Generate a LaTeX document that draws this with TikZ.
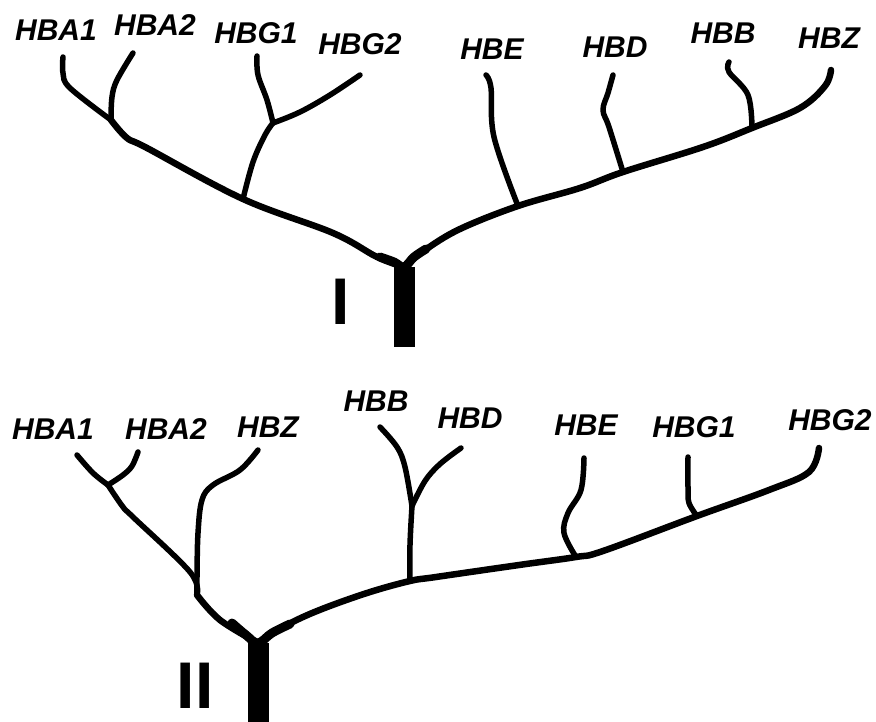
\documentclass[tikz,border=0pt]{standalone}
\usepackage{fontspec}
\setmainfont{Liberation Sans}
\begin{document}
\begin{tikzpicture}[x=1pt,y=-1pt,
  lbl/.style={font=\fontsize{30}{30}\selectfont\bfseries\itshape, inner sep=0pt},
  roman/.style={font=\fontsize{66}{66}\selectfont\bfseries, inner sep=0pt},
  br/.style={line width=5.5pt, line cap=round, line join=round},
  limb/.style={line width=6.5pt, line cap=round, line join=round},
  joint/.style={line width=9pt, line cap=round, line join=round},
  trunk/.style={line width=21pt}]
\useasboundingbox (0,0) rectangle (876,722);
% ---------- Tree I ----------
\node[lbl] (a1) at (56,30) {HBA1};
\node[lbl] (a2) at (155,25) {HBA2};
\node[lbl] (g1) at (256,33) {HBG1};
\node[lbl] (g2) at (360,44) {HBG2};
\node[lbl] (e) at (492,49) {HBE};
\node[lbl] (d) at (615,47) {HBD};
\node[lbl] (b) at (723,33) {HBB};
\node[lbl] (z) at (829,38) {HBZ};
\node[roman] (one) at (341,302) {I};
\coordinate (r1) at (404,267);
\coordinate (r1b) at (404,347);
\coordinate (jA) at (111,120);
\coordinate (jG) at (243,199);
\coordinate (jGs) at (273,123);
\coordinate (jE) at (518,206);
\coordinate (jD) at (623,172);
\coordinate (jB) at (752,128);
\coordinate (tA1) at (63,57);
\coordinate (tA2) at (133,53);
\coordinate (tG1) at (257,56);
\coordinate (tG2) at (360,75);
\coordinate (tE) at (486,75);
\coordinate (tD) at (613,75);
\coordinate (tB) at (729,62);
\coordinate (tZ) at (831,70);
\draw[trunk] (r1) -- (r1b);
\draw[joint] plot[smooth,tension=0.6] coordinates {(380,257) (394,262) (r1) (414,257) (426,249)};
\draw[limb] plot[smooth,tension=0.6] coordinates {(r1) (377,257) (333,233) (jG) (147,148) (127,138) (jA)};
\draw[br] plot[smooth,tension=0.6] coordinates {(jA) (70,88) (63,73) (tA1)};
\draw[br] plot[smooth,tension=0.6] coordinates {(jA) (112,97) (117,80) (tA2)};
\draw[br] plot[smooth,tension=0.6] coordinates {(jG) (253,162) (265,135) (jGs)};
\draw[br] plot[smooth,tension=0.6] coordinates {(jGs) (267,100) (258,75) (tG1)};
\draw[br] plot[smooth,tension=0.6] coordinates {(jGs) (300,112) (330,95) (tG2)};
\draw[limb] plot[smooth,tension=0.6] coordinates {(r1) (425,250) (460,229) (jE) (580,188) (jD) (703,147) (jB) (800,108) (825,86) (tZ)};
\draw[br] plot[smooth,tension=0.6] coordinates {(jE) (494,137) (491,88) (tE)};
\draw[br] plot[smooth,tension=0.6] coordinates {(jD) (609,127) (603,110) (608,93) (tD)};
\draw[br] plot[smooth,tension=0.6] coordinates {(jB) (748,95) (729,72) (tB)};
% ---------- Tree II ----------
\node[lbl] (a1b) at (53,429) {HBA1};
\node[lbl] (a2b) at (166,429) {HBA2};
\node[lbl] (zb) at (268,427) {HBZ};
\node[lbl] (bb) at (376,401) {HBB};
\node[lbl] (db) at (470,418) {HBD};
\node[lbl] (eb) at (586,425) {HBE};
\node[lbl] (g1b) at (694,427) {HBG1};
\node[lbl] (g2b) at (830,420) {HBG2};
\node[roman] (two) at (195,686) {II};
\coordinate (r2) at (258,643);
\coordinate (r2b) at (258,722);
\coordinate (kA) at (108,485);
\coordinate (kZ) at (197,595);
\coordinate (kB) at (410,581);
\coordinate (kBD) at (412,506);
\coordinate (kE) at (576,557);
\coordinate (kG) at (697,516);
\coordinate (uA1) at (77,455);
\coordinate (uA2) at (138,452);
\coordinate (uZ) at (258,450);
\coordinate (uB) at (380,427);
\coordinate (uD) at (461,448);
\coordinate (uE) at (584,458);
\coordinate (uG1) at (688,457);
\coordinate (uG2) at (819,448);
\draw[trunk] (r2) -- (r2b);
\draw[joint] plot[smooth,tension=0.6] coordinates {(232,623) (246,635) (r2) (272,633) (290,624)};
\draw[limb] plot[smooth,tension=0.6] coordinates {(r2) (220,620) (kZ)};
\draw[br] plot[smooth,tension=0.6] coordinates {(kZ) (190,572) (133,517) (123,507) (kA)};
\draw[br] plot[smooth,tension=0.6] coordinates {(kA) (93,473) (uA1)};
\draw[br] plot[smooth,tension=0.6] coordinates {(kA) (123,475) (132,466) (uA2)};
\draw[br] plot[smooth,tension=0.6] coordinates {(kZ) (197,577) (198,533) (202,500) (213,485) (240,470) (uZ)};
\draw[limb] plot[smooth,tension=0.6] coordinates {(r2) (283,627) (317,611) (367,593) (kB) (436,577) (519,565) (kE) (603,551) (kG) (769,490) (809,472) (uG2)};
\draw[br] plot[smooth,tension=0.6] coordinates {(kB) (410,545) (kBD)};
\draw[br] plot[smooth,tension=0.6] coordinates {(kBD) (405,467) (397,447) (uB)};
\draw[br] plot[smooth,tension=0.6] coordinates {(kBD) (425,481) (440,464) (uD)};
\draw[br] plot[smooth,tension=0.6] coordinates {(kE) (564,533) (568,513) (581,490) (uE)};
\draw[br] plot[smooth,tension=0.6] coordinates {(kG) (689,503) (688,487) (uG1)};
\end{tikzpicture}
\end{document}
